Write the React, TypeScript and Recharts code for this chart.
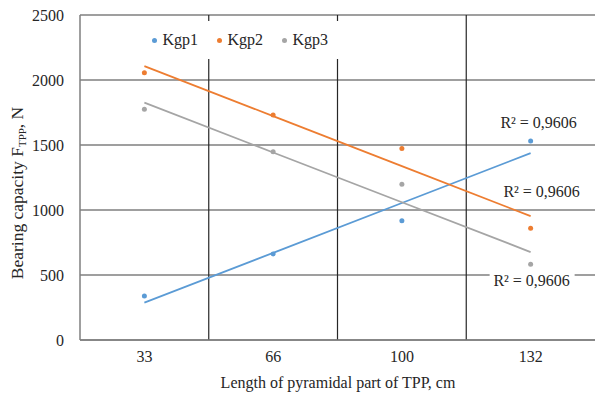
import React from 'react';
import {
  ComposedChart,
  Line,
  XAxis,
  YAxis,
  CartesianGrid,
  ReferenceLine,
  ReferenceDot,
  Legend,
} from 'recharts';

const categories = ['33', '66', '100', '132'];
const kgp1 = [338, 662, 918, 1531];
const kgp2 = [2056, 1731, 1474, 859];
const kgp3 = [1775, 1449, 1198, 582];
const yTicks = [0, 500, 1000, 1500, 2000, 2500];
const r2Text = 'R² = 0,9606';

const COLORS = { kgp1: '#5B9BD5', kgp2: '#ED7D31', kgp3: '#A5A5A5' };
const FONT = 'Liberation Serif, serif';
const TEXT = '#262626';
const FS = 16;

// least squares line over the category index
const trend = (vals: number[]) => {
  const n = vals.length;
  const mx = (n - 1) / 2;
  const my = vals.reduce((a, b) => a + b, 0) / n;
  let num = 0;
  let den = 0;
  vals.forEach((v, i) => {
    num += (i - mx) * (v - my);
    den += (i - mx) * (i - mx);
  });
  const slope = num / den;
  return vals.map((_, i) => my + slope * (i - mx));
};

const t1 = trend(kgp1);
const t2 = trend(kgp2);
const t3 = trend(kgp3);

const data = categories.map((c, i) => ({
  x: c,
  kgp1: kgp1[i],
  kgp2: kgp2[i],
  kgp3: kgp3[i],
  t1: t1[i],
  t2: t2[i],
  t3: t3[i],
}));

const legendItems = [
  { name: 'Kgp1', color: COLORS.kgp1 },
  { name: 'Kgp2', color: COLORS.kgp2 },
  { name: 'Kgp3', color: COLORS.kgp3 },
];

const LegendBox = () => (
  <div
    style={{
      display: 'flex',
      alignItems: 'center',
      background: '#fff',
      height: 38,
      fontFamily: FONT,
      fontSize: FS,
      color: TEXT,
    }}
  >
    {legendItems.map((it) => (
      <div key={it.name} style={{ display: 'flex', alignItems: 'center', width: 65 }}>
        <span
          style={{
            display: 'inline-block',
            width: 5,
            height: 5,
            borderRadius: '50%',
            background: it.color,
            marginRight: 5.5,
          }}
        />
        <span>{it.name}</span>
      </div>
    ))}
  </div>
);

const r2Shape = (dx: number, boxed: boolean) => (props: any) => {
  const { cx, cy } = props;
  return (
    <g>
      {boxed && <rect x={cx + dx - 42} y={cy - 9} width={85} height={18} fill="#fff" />}
      <text
        x={cx + dx}
        y={cy}
        dy="0.35em"
        textAnchor="middle"
        fontFamily={FONT}
        fontSize={FS}
        fill={TEXT}
      >
        {r2Text}
      </text>
    </g>
  );
};

const YLabel = () => (
  <text
    transform="translate(23, 193) rotate(-90)"
    textAnchor="middle"
    fontFamily={FONT}
    fontSize={17.5}
    fill={TEXT}
  >
    Bearing capacity F
    <tspan fontSize={11} dy={3}>TPP</tspan>
    <tspan dy={-3}>, N</tspan>
  </text>
);

const XLabel = () => (
  <text x={338} y={388} textAnchor="middle" fontFamily={FONT} fontSize={FS} fill={TEXT}>
    Length of pyramidal part of TPP, cm
  </text>
);

const dot = (color: string) => ({ r: 2.5, fill: color, stroke: 'none' });

export default function App() {
  return (
    <div style={{ position: 'absolute', left: 0, top: 0, width: 595, height: 393, overflow: 'hidden', background: '#fff', fontFamily: FONT }}>
      <ComposedChart width={595} height={393} data={data} margin={{ top: 15, right: 0, bottom: 0, left: 0 }}>
        <CartesianGrid vertical={false} stroke="#7f7f7f" strokeWidth={1.5} />
        <XAxis
          dataKey="x"
          scale="band"
          height={53}
          axisLine={{ stroke: '#7f7f7f', strokeWidth: 1.5 }}
          tickLine={false}
          tickMargin={5}
          tick={{ fontFamily: FONT, fontSize: FS, fill: TEXT }}
          label={<XLabel />}
        />
        <YAxis
          width={80}
          domain={[0, 2500]}
          ticks={yTicks}
          axisLine={{ stroke: '#7f7f7f', strokeWidth: 1.5 }}
          tickLine={false}
          tickMargin={10}
          tick={{ fontFamily: FONT, fontSize: FS, fill: TEXT }}
          label={<YLabel />}
        />
        {categories.slice(1).map((c) => (
          <ReferenceLine key={c} x={c} position="start" stroke="#262626" strokeWidth={1.2} />
        ))}
        <Line dataKey="t1" stroke={COLORS.kgp1} strokeWidth={1.8} dot={false} isAnimationActive={false} legendType="none" />
        <Line dataKey="t2" stroke={COLORS.kgp2} strokeWidth={1.8} dot={false} isAnimationActive={false} legendType="none" />
        <Line dataKey="t3" stroke={COLORS.kgp3} strokeWidth={1.8} dot={false} isAnimationActive={false} legendType="none" />
        <Line dataKey="kgp1" name="Kgp1" stroke="none" dot={dot(COLORS.kgp1)} activeDot={false} isAnimationActive={false} />
        <Line dataKey="kgp2" name="Kgp2" stroke="none" dot={dot(COLORS.kgp2)} activeDot={false} isAnimationActive={false} />
        <Line dataKey="kgp3" name="Kgp3" stroke="none" dot={dot(COLORS.kgp3)} activeDot={false} isAnimationActive={false} />
        <ReferenceDot x="132" y={1677} r={0} shape={r2Shape(8, false)} />
        <ReferenceDot x="132" y={1146} r={0} shape={r2Shape(11, false)} />
        <ReferenceDot x="132" y={462} r={0} shape={r2Shape(1, true)} />
        <Legend
          content={<LegendBox />}
          layout="horizontal"
          verticalAlign="middle"
          wrapperStyle={{ top: 21, left: 152, width: 200 }}
        />
      </ComposedChart>
    </div>
  );
}
